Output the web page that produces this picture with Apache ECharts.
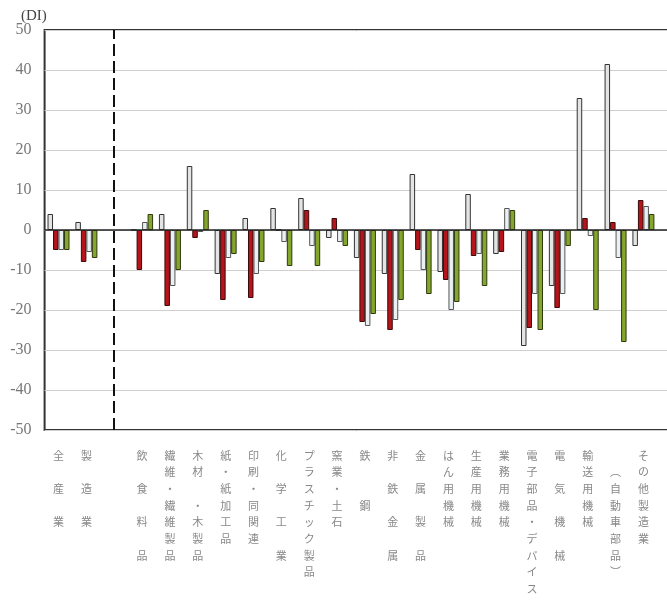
<!DOCTYPE html>
<html>
<head>
<meta charset="utf-8">
<script src="https://cdn.jsdelivr.net/npm/echarts@6/dist/echarts.min.js"></script>
<style>
html,body{margin:0;padding:0;background:#fff;}
#chart{width:667px;height:602px;}
</style>
</head>
<body>
<div id="chart"></div>
<script>
// Categories (slot 2 is the empty gap with the dashed divider; last slot is empty padding)
var categories = ['全産業','製造業','','飲食料品','繊維・繊維製品','木材・木製品','紙・紙加工品','印刷・同関連','化学工業','プラスチック製品','窯業・土石','鉄鋼','非鉄金属','金属製品','はん用機械','生産用機械','業務用機械','電子部品・デバイス','電気機械','輸送用機械','（自動車部品）','その他製造業',' '];
var tickLabels = [
  '全\n\n産\n\n業',
  '製\n\n造\n\n業',
  '',
  '飲\n\n食\n\n料\n\n品',
  '繊\n維\n・\n繊\n維\n製\n品',
  '木\n材\n\n・\n木\n製\n品',
  '紙\n・\n紙\n加\n工\n品',
  '印\n刷\n・\n同\n関\n連',
  '化\n\n学\n\n工\n\n業',
  'プ\nラ\nス\nチ\nッ\nク\n製\n品',
  '窯\n業\n・\n土\n石',
  '鉄\n\n\n鋼',
  '非\n\n鉄\n\n金\n\n属',
  '金\n\n属\n\n製\n\n品',
  'は\nん\n用\n機\n械',
  '生\n産\n用\n機\n械',
  '業\n務\n用\n機\n械',
  '電\n子\n部\n品\n・\nデ\nバ\nイ\nス',
  '電\n\n気\n\n機\n\n械',
  '輸\n送\n用\n機\n械',
  '\n︵\n自\n動\n車\n部\n品\n︶',
  'そ\nの\n他\n製\n造\n業',
  ''
];
var yTicks = [-50,-40,-30,-20,-10,0,10,20,30,40,50];
var dividerIndex = 2;

var series1 = [4, 2, null, 0, 4, 16, -11, 3, 5.5, 8, -2, -7, -11, 14, -10.5, 9, -6, -29, -14, 33, 41.5, -4, null];
var series2 = [-5, -8, null, -10, -19, -2, -17.5, -17, 0, 5, 3, -23, -25, -5, -12.5, -6.5, -5.5, -24.5, -19.5, 3, 2, 7.5, null];
var series3 = [-5, -5.5, null, 2, -14, -0.5, -7, -11, -3, -4, -3, -24, -22.5, -10, -20, -6, 5.5, -16, -16, -1.5, -7, 6, null];
var series4 = [-5, -7, null, 4, -10, 5, -6, -8, -9, -9, -4, -21, -17.5, -16, -18, -14, 5, -25, -4, -20, -28, 4, null];

var chart = echarts.init(document.getElementById('chart'), null, {renderer:'canvas'});
var barW = 5.5;
function bar(name, data, fill, border) {
  return {
    name: name, type: 'bar', data: data, barWidth: barW, barGap: '0%',
    itemStyle: {color: fill, borderColor: border, borderWidth: 1},
    emphasis: {disabled: true}, animation: false
  };
}
chart.setOption({
  animation: false,
  title: {
    text: '(DI)', left: 16, top: 4,
    textStyle: {fontFamily: 'Liberation Serif', fontSize: 15, fontWeight: 'normal', color: '#444'}
  },
  grid: {left: 44.6, width: 640.6, top: 30, bottom: 172, show: true, borderColor: '#333', borderWidth: 2,
         backgroundColor: 'transparent', containLabel: false, outerBoundsMode: 'none'},
  xAxis: {
    type: 'category', data: categories,
    axisLine: {show: false, onZero: false},
    axisTick: {show: false},
    splitLine: {show: false},
    axisLabel: {
      interval: 0, margin: 17,
      formatter: function (v, i) { return tickLabels[i]; },
      fontFamily: 'Noto Sans CJK JP', fontSize: 11, lineHeight: 16.7, color: '#888',
      verticalAlign: 'top'
    }
  },
  yAxis: {
    type: 'value', min: yTicks[0], max: yTicks[yTicks.length - 1], interval: 10,
    axisLine: {show: false}, axisTick: {show: false},
    splitLine: {show: true, lineStyle: {color: '#cfcfcf', width: 1}},
    axisLabel: {margin: 13, fontFamily: 'Liberation Serif', fontSize: 16, color: '#777'}
  },
  series: [
    bar('s1', series1, '#e4e4e4', '#333'),
    bar('s2', series2, '#b5141b', '#3a0a0a'),
    bar('s3', series3, '#e9f1f4', '#555'),
    bar('s4', series4, '#84a62c', '#2f3a10'),
    {
      name: 'guides', type: 'line', data: [], silent: true, z: 5,
      markLine: {
        silent: true, symbol: 'none', label: {show: false}, animation: false,
        data: [
          {yAxis: 0, lineStyle: {color: '#222', width: 1.5, type: 'solid'}},
          {xAxis: dividerIndex, lineStyle: {color: '#111', width: 2, type: [12, 5]}}
        ]
      }
    }
  ]
});
</script>
</body>
</html>
